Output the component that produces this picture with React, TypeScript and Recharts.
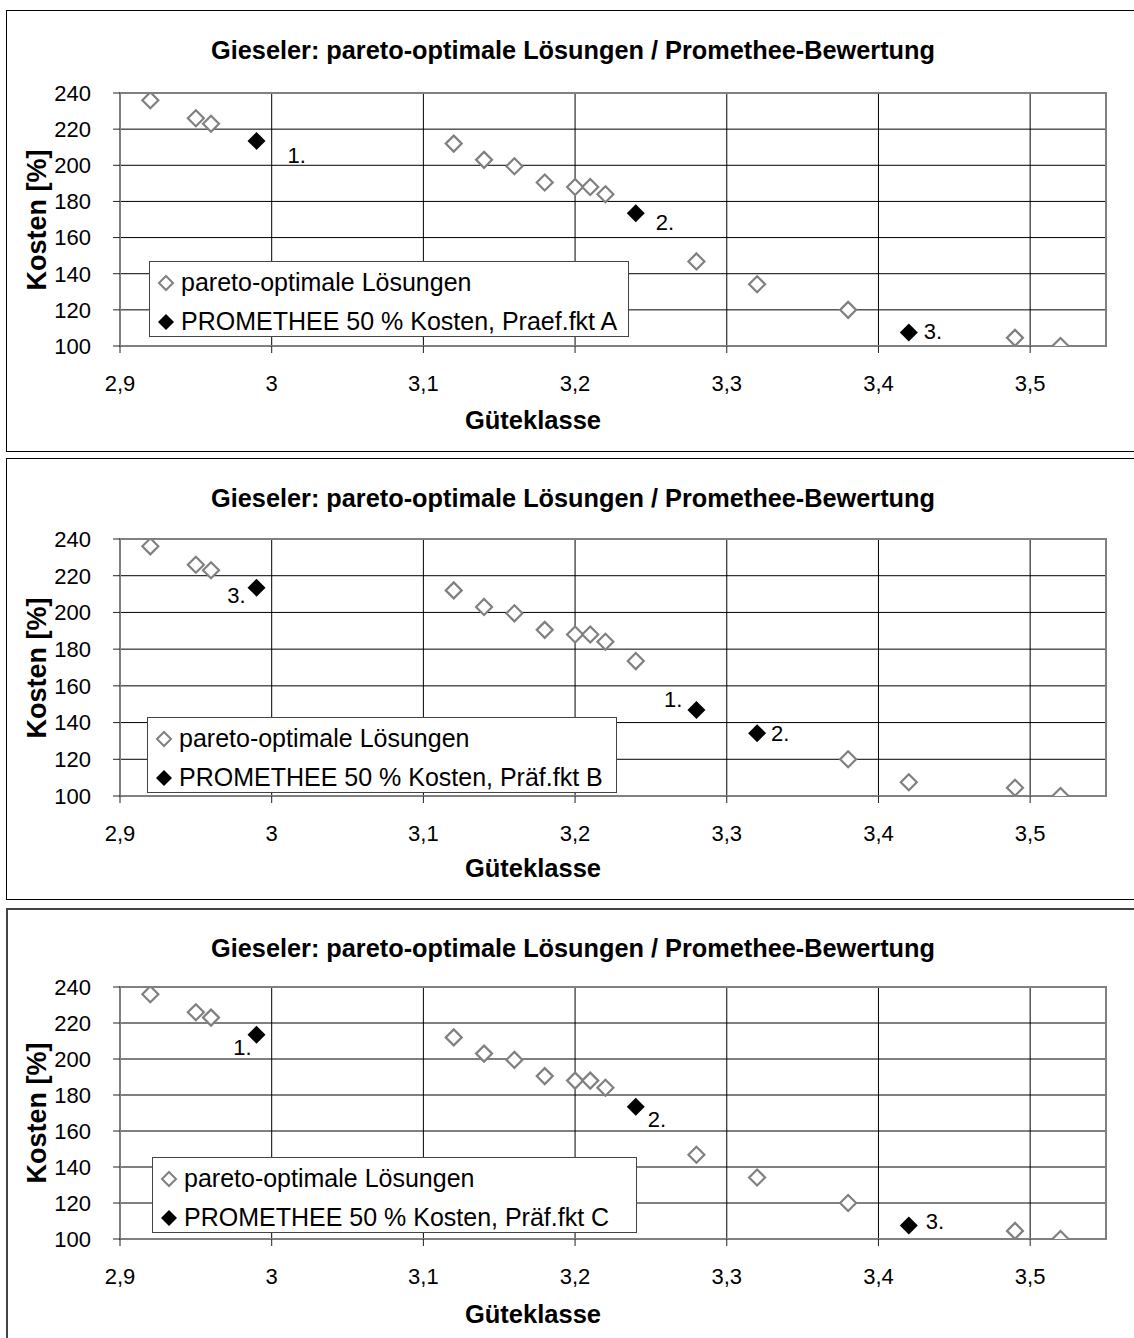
import { ScatterChart, Scatter, XAxis, YAxis, CartesianGrid, ReferenceArea } from 'recharts';

// Güteklasse / Kosten of all pareto-optimal solutions
const guete = [2.92, 2.95, 2.96, 2.99, 3.12, 3.14, 3.16, 3.18, 3.2, 3.21, 3.22, 3.24, 3.28, 3.32, 3.38, 3.42, 3.49, 3.52];
const kosten = [236, 226, 223, 213.5, 212, 203, 199.5, 190.5, 188, 188, 184, 173.5, 146.8, 134.2, 120, 107.5, 104.5, 100];

// index into the arrays above of the solutions ranked 1., 2., 3.
const rankingA = [3, 11, 15];
const rankingB = [12, 13, 3];
const rankingC = [3, 11, 15];

const xTicks = [2.9, 3, 3.1, 3.2, 3.3, 3.4, 3.5];
const yTicks = [100, 120, 140, 160, 180, 200, 220, 240];

const FONT = '"Liberation Sans", Arial, sans-serif';
const W = 1134;

type LabelPos = { dx: number; dy: number; anchor: 'start' | 'end' };

interface PanelCfg {
  title: string;
  legendLabel: string;
  ranking: number[];
  top: number;
  height: number;
  plotTop: number;
  plotBottom: number;
  xLabelY: number;
  legend: { left: number; top: number; width: number };
  labels: LabelPos[]; // placement of "1.", "2.", "3."
  border: string;
}

const panels: PanelCfg[] = [
  {
    title: 'Gieseler: pareto-optimale Lösungen / Promethee-Bewertung',
    legendLabel: 'PROMETHEE 50 % Kosten, Praef.fkt A',
    ranking: rankingA,
    top: 10, height: 442, plotTop: 93, plotBottom: 346, xLabelY: 420,
    legend: { left: 149, top: 261, width: 480 },
    labels: [
      { dx: 31, dy: 14, anchor: 'start' },
      { dx: 20, dy: 9, anchor: 'start' },
      { dx: 15, dy: -1, anchor: 'start' },
    ],
    border: '1px solid #000',
  },
  {
    title: 'Gieseler: pareto-optimale Lösungen / Promethee-Bewertung',
    legendLabel: 'PROMETHEE 50 % Kosten, Präf.fkt B',
    ranking: rankingB,
    top: 458, height: 442, plotTop: 539, plotBottom: 796, xLabelY: 868,
    legend: { left: 147, top: 717, width: 470 },
    labels: [
      { dx: -14, dy: -11, anchor: 'end' },
      { dx: 14, dy: 0, anchor: 'start' },
      { dx: -11, dy: 8, anchor: 'end' },
    ],
    border: '1px solid #000',
  },
  {
    title: 'Gieseler: pareto-optimale Lösungen / Promethee-Bewertung',
    legendLabel: 'PROMETHEE 50 % Kosten, Präf.fkt C',
    ranking: rankingC,
    top: 908, height: 434, plotTop: 987, plotBottom: 1239, xLabelY: 1314,
    legend: { left: 152, top: 1157, width: 485 },
    labels: [
      { dx: -5, dy: 13, anchor: 'end' },
      { dx: 12, dy: 13, anchor: 'start' },
      { dx: 17, dy: -4, anchor: 'start' },
    ],
    border: '2px solid #444',
  },
];

const ParetoMarker = (props: any) => {
  const { cx, cy } = props;
  if (cx == null || cy == null) return null;
  const r = 8;
  return (
    <path
      d={`M${cx},${cy - r}L${cx + r},${cy}L${cx},${cy + r}L${cx - r},${cy}Z`}
      fill="#fff"
      stroke="#808080"
      strokeWidth={2.2}
    />
  );
};

const PromMarker = (props: any) => {
  const { cx, cy, payload, labels } = props;
  if (cx == null || cy == null) return null;
  const r = 9;
  const pos: LabelPos = labels[payload.rank - 1];
  return (
    <g>
      <path d={`M${cx},${cy - r}L${cx + r},${cy}L${cx},${cy + r}L${cx - r},${cy}Z`} fill="#000" />
      <text
        x={cx + pos.dx}
        y={cy + pos.dy}
        dy="0.35em"
        textAnchor={pos.anchor}
        fontSize={22}
        fontFamily={FONT}
        fill="#000"
      >
        {payload.rank}.
      </text>
    </g>
  );
};

const Diamond = ({ filled }: { filled: boolean }) => (
  <svg width={18} height={18} style={{ display: 'block', marginLeft: 7, marginRight: 6, flex: 'none' }}>
    {filled ? (
      <path d="M9,1L17,9L9,17L1,9Z" fill="#000" />
    ) : (
      <path d="M9,2L16,9L9,16L2,9Z" fill="#fff" stroke="#808080" strokeWidth={2} />
    )}
  </svg>
);

function Panel({ cfg }: { cfg: PanelCfg }) {
  const pareto = guete
    .map((g, i) => ({ x: g, y: kosten[i] }))
    .filter((_, i) => !cfg.ranking.includes(i));
  const prom = cfg.ranking.map((idx, r) => ({ x: guete[idx], y: kosten[idx], rank: r + 1 }));

  const marginTop = cfg.plotTop - cfg.top;
  const bottomSpace = cfg.top + cfg.height - cfg.plotBottom;
  const midY = (cfg.plotTop + cfg.plotBottom) / 2;

  return (
    <>
      <div
        style={{
          position: 'absolute', left: 6, top: cfg.top, width: 1140, height: cfg.height,
          border: cfg.border, boxSizing: 'border-box', background: '#fff',
        }}
      />
      <div style={{ position: 'absolute', left: 0, top: cfg.top }}>
        <ScatterChart
          width={W}
          height={cfg.height}
          margin={{ top: marginTop, right: 28, left: 20, bottom: bottomSpace - 60 }}
        >
          <CartesianGrid stroke="#000" strokeWidth={1} />
          <XAxis
            type="number"
            dataKey="x"
            domain={[2.9, 3.55]}
            ticks={xTicks}
            allowDataOverflow
            height={60}
            tickFormatter={(v: number) => String(v).replace('.', ',')}
            tick={{ fontSize: 22, fill: '#000', fontFamily: FONT }}
            tickLine={{ stroke: '#222' }}
            tickSize={7}
            tickMargin={22}
            axisLine={{ stroke: '#808080', strokeWidth: 2 }}
          />
          <YAxis
            type="number"
            dataKey="y"
            domain={[100, 240]}
            ticks={yTicks}
            allowDataOverflow
            width={100}
            tick={{ fontSize: 22, fill: '#000', fontFamily: FONT }}
            tickLine={{ stroke: '#222' }}
            tickSize={7}
            tickMargin={22}
            axisLine={{ stroke: '#808080', strokeWidth: 2 }}
          />
          <ReferenceArea x1={2.9} x2={3.55} y1={100} y2={240} fill="none" stroke="#808080" strokeWidth={2} />
          <Scatter data={pareto} shape={(p: any) => <ParetoMarker {...p} />} isAnimationActive={false} />
          <Scatter
            data={prom}
            shape={(p: any) => <PromMarker {...p} labels={cfg.labels} />}
            isAnimationActive={false}
          />
        </ScatterChart>
      </div>
      <div
        style={{
          position: 'absolute', left: 7, width: 1132, top: cfg.top + 25, height: 30, lineHeight: '30px',
          textAlign: 'center', fontFamily: FONT, fontWeight: 'bold', fontSize: 25.3, whiteSpace: 'nowrap',
        }}
      >
        {cfg.title}
      </div>
      <div
        style={{
          position: 'absolute', left: 37, top: midY, transform: 'translate(-50%, -50%) rotate(-90deg)',
          fontFamily: FONT, fontWeight: 'bold', fontSize: 27, whiteSpace: 'nowrap', lineHeight: '30px',
        }}
      >
        Kosten [%]
      </div>
      <div
        style={{
          position: 'absolute', left: 433, width: 200, top: cfg.xLabelY - 15, height: 30, lineHeight: '30px',
          textAlign: 'center', fontFamily: FONT, fontWeight: 'bold', fontSize: 25.5,
        }}
      >
        Güteklasse
      </div>
      <div
        style={{
          position: 'absolute', left: cfg.legend.left, top: cfg.legend.top, width: cfg.legend.width, height: 76,
          border: '1px solid #444', boxSizing: 'border-box', background: '#fff', overflow: 'hidden',
          fontFamily: FONT, fontSize: 25, paddingTop: 1,
        }}
      >
        <div style={{ display: 'flex', alignItems: 'center', height: 39, whiteSpace: 'nowrap' }}>
          <Diamond filled={false} />
          pareto-optimale Lösungen
        </div>
        <div style={{ display: 'flex', alignItems: 'center', height: 39, whiteSpace: 'nowrap' }}>
          <Diamond filled />
          {cfg.legendLabel}
        </div>
      </div>
    </>
  );
}

export default function App() {
  return (
    <div style={{ position: 'absolute', left: 0, top: 0, width: W, height: 1338, overflow: 'hidden', background: '#fff' }}>
      {panels.map((cfg, i) => (
        <Panel key={i} cfg={cfg} />
      ))}
    </div>
  );
}
